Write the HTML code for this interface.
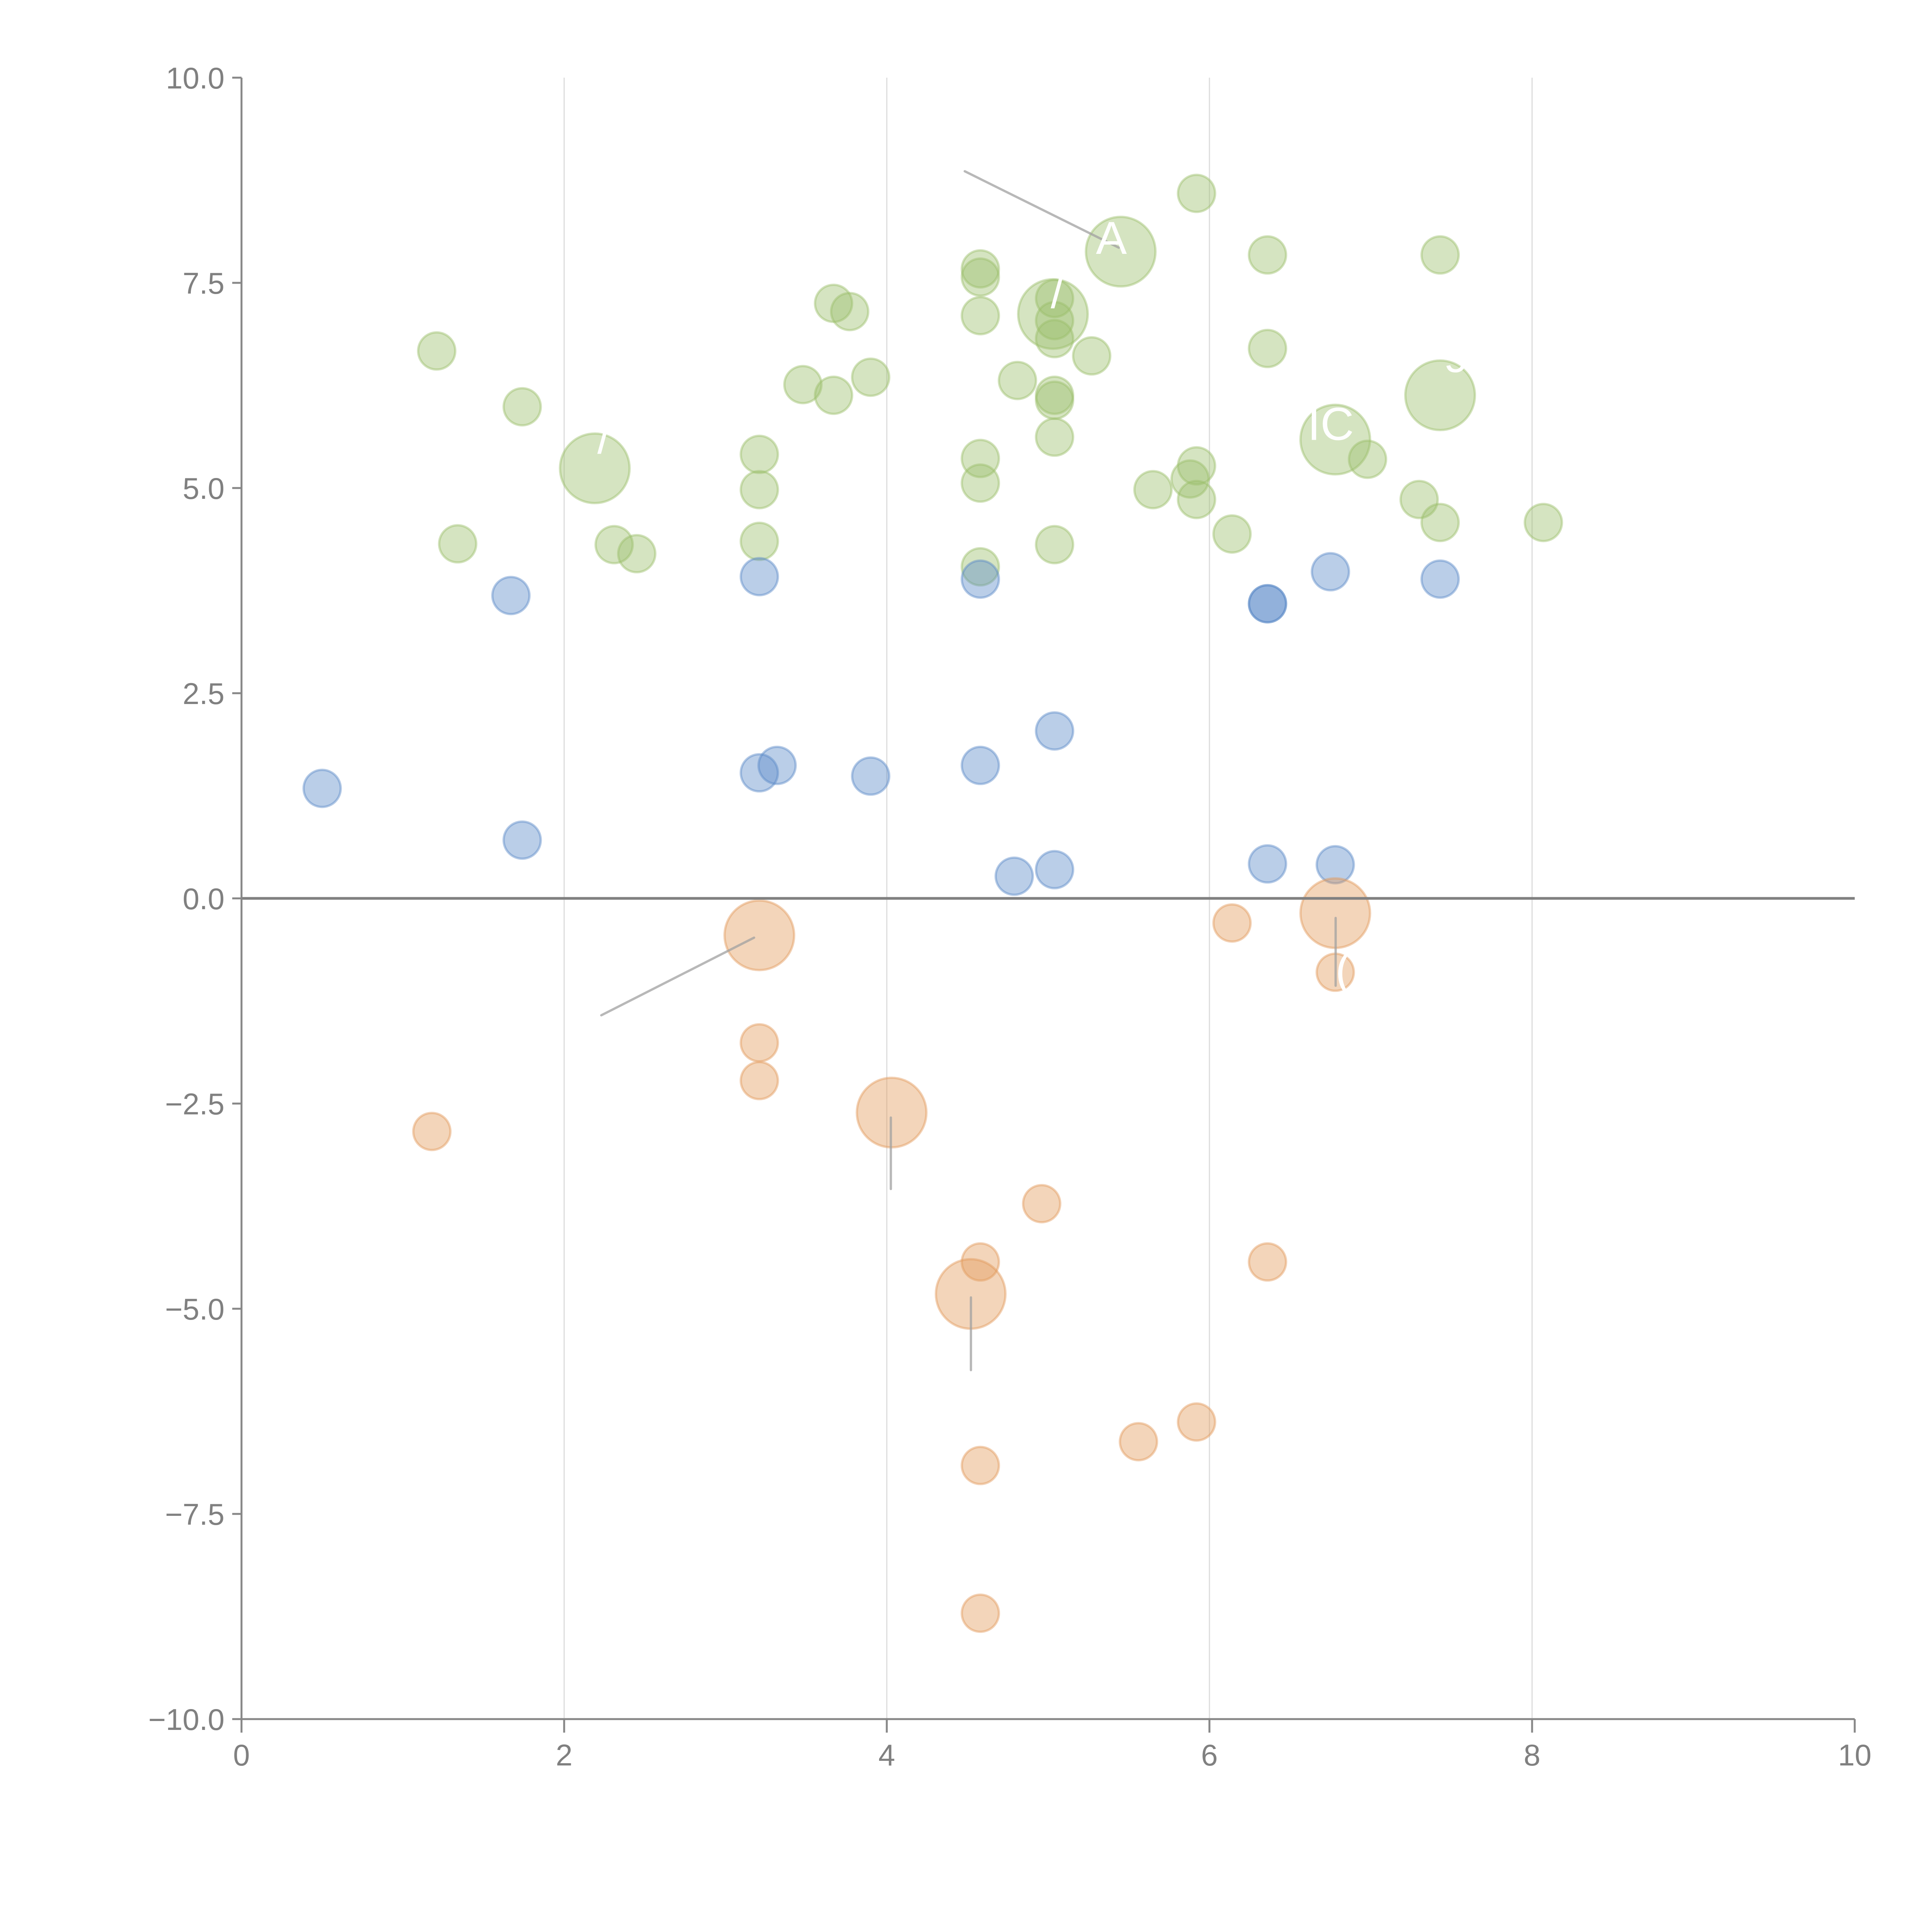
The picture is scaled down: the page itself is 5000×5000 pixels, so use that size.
<!DOCTYPE html>
<html><head><meta charset="utf-8"><style>
html,body{margin:0;padding:0;background:#fff;}
svg{display:block;}
text{font-family:"Liberation Sans",sans-serif;}
</style></head><body>
<svg id="chart" width="5000" height="5000" viewBox="0 0 5000 5000" xmlns="http://www.w3.org/2000/svg">
<g id="grid"></g>
<g id="marks"></g>
<g id="annot"></g>
<g id="axes"></g>
</svg>
<script>
const xTicks=[0,2,4,6,8,10];
const yTicks=[-10,-7.5,-5,-2.5,0,2.5,5,7.5,10];
const yTickLabels=["\u221210.0","\u22127.5","\u22125.0","\u22122.5","0.0","2.5","5.0","7.5","10.0"];
// green series
const greenX=[1.21,1.74,1.34,2.19,2.31,2.45,3.21,3.21,3.21,3.48,3.67,3.67,3.77,3.90,4.58,4.58,4.58,4.58,4.58,4.58,4.81,5.04,5.04,5.04,5.03,5.04,5.04,5.04,5.04,5.27,5.45,5.92,5.65,5.88,5.92,5.92,6.14,6.36,6.36,6.78,6.98,7.30,7.43,7.43,7.43,8.07];
const greenY=[6.67,5.99,4.32,5.24,4.31,4.20,5.41,4.98,4.35,6.26,6.13,7.25,7.15,6.35,7.67,7.57,7.10,5.36,5.06,4.04,6.31,7.31,7.04,6.82,7.12,6.13,6.07,5.62,4.31,6.61,7.88,8.59,4.98,5.11,5.27,4.86,4.44,7.84,6.70,5.59,5.35,4.86,7.84,6.13,4.58,4.58];
const greenBig=[0,0,0,1,0,0,0,0,0,0,0,0,0,0,0,0,0,0,0,0,0,0,0,0,1,0,0,0,0,0,1,0,0,0,0,0,0,0,0,1,0,0,0,1,0,0];
// blue series
const blueX=[0.50,1.67,1.74,3.21,3.21,3.32,3.90,4.58,4.58,4.79,5.04,5.04,6.36,6.36,6.36,6.75,6.78,7.43];
const blueY=[1.34,3.69,0.71,3.92,1.53,1.62,1.49,3.89,1.62,0.27,2.04,0.35,3.59,3.59,0.42,3.98,0.41,3.89];
// orange series
const orangeX=[1.18,3.21,3.21,3.21,4.03,4.96,4.58,4.52,4.58,4.58,5.56,5.92,6.14,6.36,6.78,6.78];
const orangeY=[-2.84,-0.45,-1.76,-2.22,-2.61,-3.72,-4.43,-4.82,-6.91,-8.71,-6.62,-6.38,-0.30,-4.43,-0.18,-0.90];
const orangeBig=[0,1,0,0,1,0,0,1,0,0,0,0,0,0,1,0];

const X0=625,X1=4800,Y0=4449,Y1=201;
const sx=v=>X0+(v-0)/(10-0)*(X1-X0);
const sy=v=>Y0-(v+10)/20*(Y0-Y1);
const NS="http://www.w3.org/2000/svg";
function mk(tag,attrs,parent){const e=document.createElementNS(NS,tag);for(const k in attrs)e.setAttribute(k,attrs[k]);parent.appendChild(e);return e;}
const grid=document.getElementById('grid'),marks=document.getElementById('marks'),annot=document.getElementById('annot'),axes=document.getElementById('axes');

xTicks.forEach(t=>{ if(t>0&&t<10){
  const l=mk('line',{x1:sx(t),x2:sx(t),y1:Y1,y2:Y0,stroke:'#dcdcdc','stroke-width':3},grid);
  
  
}});

function series(xs,ys,big,fill,stroke,name){
  xs.forEach((x,i)=>{
    const r=(big&&big[i])?90:48;
    const c=mk('circle',{cx:sx(x),cy:sy(ys[i]),r:r,fill:fill,'fill-opacity':0.42,stroke:stroke,'stroke-opacity':0.45,'stroke-width':6},marks);
    
    
  });
}
series(greenX,greenY,greenBig,'#9bbf6b','#9bbf6b','green-bubble');
series(blueX,blueY,null,'#5b8ac8','#5b8ac8','blue-bubble');
series(orangeX,orangeY,orangeBig,'#e39a5a','#e39a5a','orange-bubble');

const z=mk('line',{x1:X0,x2:X1,y1:sy(0),y2:sy(0),stroke:'#808080','stroke-width':7},axes);



const S=5000/1568;
const leaders=[[783,139,908,201],[488,824,612,761],[723,907,723,965],[788,1053,788,1112],[1084,745,1084,800]];
leaders.forEach(a=>{
  const l=mk('line',{x1:a[0]*S,y1:a[1]*S,x2:a[2]*S,y2:a[3]*S,stroke:'#a0a0a0','stroke-opacity':0.75,'stroke-width':6,'stroke-linecap':'round'},annot);
  
  
});
const labels=[["A",902,206],["IC",1080,357],["/",858,250],["/",490,368],["9",1182,302],["(",1090,800]];
labels.forEach(a=>{
  const t=mk('text',{x:a[1]*S,y:a[2]*S,'font-size':120,fill:'#ffffff','text-anchor':'middle'},annot);
  t.textContent=a[0];
  
  
});

const ya=mk('line',{x1:X0,x2:X0,y1:Y1,y2:Y0,stroke:'#878787','stroke-width':5},axes);


const xa=mk('line',{x1:X0,x2:X1,y1:Y0,y2:Y0,stroke:'#878787','stroke-width':5},axes);


yTicks.forEach((t,i)=>{
  const y=sy(t);
  const tk=mk('line',{x1:X0-24,x2:X0,y1:y,y2:y,stroke:'#878787','stroke-width':5},axes);
  
  
  const tx=mk('text',{x:X0-44,y:y+28,'font-size':78,fill:'#808080','text-anchor':'end'},axes);
  tx.textContent=yTickLabels[i];
  
  
});
xTicks.forEach(t=>{
  const x=sx(t);
  const tk=mk('line',{x1:x,x2:x,y1:Y0,y2:Y0+35,stroke:'#878787','stroke-width':5},axes);
  
  
  const tx=mk('text',{x:x,y:Y0+120,'font-size':78,fill:'#808080','text-anchor':'middle'},axes);
  tx.textContent=String(t);
  
  
});
</script>
</body></html>
